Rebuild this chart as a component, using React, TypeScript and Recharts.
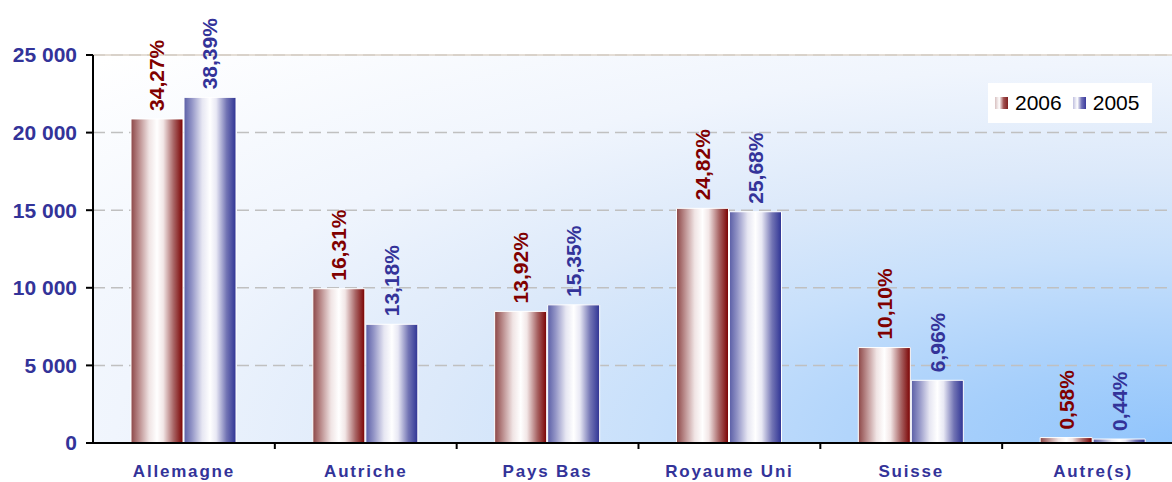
import React from "react";
import {
  BarChart,
  Bar,
  XAxis,
  YAxis,
  CartesianGrid,
  Legend,
  LabelList,
  ReferenceLine,
} from "recharts";

const PAYS = ["Allemagne", "Autriche", "Pays Bas", "Royaume Uni", "Suisse", "Autre(s)"];
const VAL_2006 = [20880, 9940, 8480, 15120, 6150, 350];
const VAL_2005 = [22270, 7650, 8900, 14900, 4040, 255];
const PCT_2006 = ["34,27%", "16,31%", "13,92%", "24,82%", "10,10%", "0,58%"];
const PCT_2005 = ["38,39%", "13,18%", "15,35%", "25,68%", "6,96%", "0,44%"];
const Y_TICKS = [0, 5000, 10000, 15000, 20000, 25000];

const RED = "#800000";
const BLUE = "#333399";
const FONT = "Arial, 'Liberation Sans', sans-serif";

const data = PAYS.map((name, i) => ({
  name,
  v2006: VAL_2006[i],
  v2005: VAL_2005[i],
  p2006: PCT_2006[i],
  p2005: PCT_2005[i],
}));

const fmt = (v: number) => (v === 0 ? "0" : `${Math.floor(v / 1000)} ${String(v % 1000).padStart(3, "0")}`);

const pctLabel = (color: string) => (props: any) => {
  const { x, y, width, value } = props;
  const cx = x + width / 2;
  const ty = y - 8;
  return (
    <text
      x={cx}
      y={ty}
      transform={`rotate(-90 ${cx} ${ty})`}
      textAnchor="start"
      dominantBaseline="central"
      fill={color}
      fontFamily={FONT}
      fontWeight="bold"
      fontSize={21}
    >
      {value}
    </text>
  );
};

// category label at the centre, tick mark on the left boundary
const XTick = (props: any) => {
  const { x, y, payload } = props;
  const half = payload.offset ?? 90.9;
  return (
    <g>
      {payload.index > 0 && (
        <line x1={x - half} x2={x - half} y1={y} y2={y + 6} stroke="#000" strokeWidth={2} />
      )}
      <text
        x={x}
        y={y + 34}
        textAnchor="middle"
        fill={BLUE}
        fontFamily={FONT}
        fontWeight="bold"
        fontSize={17}
        letterSpacing={1.8}
      >
        {payload.value}
      </text>
    </g>
  );
};

const LegendBox = () => (
  <div
    style={{
      background: "#fff",
      width: 164,
      height: 40,
      display: "flex",
      alignItems: "center",
      fontFamily: FONT,
      fontSize: 21,
      color: "#000",
    }}
  >
    <span style={{ width: 13, height: 12, marginLeft: 7, background: "linear-gradient(to right, #d8c0c0, #fff, #a05050, #802020)" }} />
    <span style={{ marginLeft: 7 }}>2006</span>
    <span style={{ width: 13, height: 12, marginLeft: 11, background: "linear-gradient(to right, #c0c0e0, #fff, #7070b8, #3a3a9c)" }} />
    <span style={{ marginLeft: 7 }}>2005</span>
  </div>
);

export default function App() {
  return (
    <div style={{ position: "absolute", left: 0, top: 0, width: 1172, height: 482, overflow: "hidden", background: "#fff" }}>
      <BarChart
        width={1184}
        height={482}
        data={data}
        margin={{ top: 55, right: 0, left: 0, bottom: 0 }}
        barGap={1}
        barSize={52}
      >
        <defs>
          <radialGradient id="bg" cx="1" cy="1" r="1.4" fx="1" fy="1">
            <stop offset="0%" stopColor="#90c4fc" />
            <stop offset="15%" stopColor="#a6cffb" />
            <stop offset="35%" stopColor="#c8e0fb" />
            <stop offset="50%" stopColor="#dce9fa" />
            <stop offset="70%" stopColor="#f0f5fd" />
            <stop offset="100%" stopColor="#ffffff" />
          </radialGradient>
          <linearGradient id="gRed" x1="0" y1="0" x2="1" y2="0">
            <stop offset="0%" stopColor="#8c4646" />
            <stop offset="15%" stopColor="#b98a8a" />
            <stop offset="35%" stopColor="#f0e4e4" />
            <stop offset="50%" stopColor="#ffffff" />
            <stop offset="62%" stopColor="#f2e6e6" />
            <stop offset="82%" stopColor="#a86464" />
            <stop offset="100%" stopColor="#7a0000" />
          </linearGradient>
          <linearGradient id="gBlue" x1="0" y1="0" x2="1" y2="0">
            <stop offset="0%" stopColor="#5a5ea6" />
            <stop offset="15%" stopColor="#9294c6" />
            <stop offset="35%" stopColor="#e6e6f2" />
            <stop offset="50%" stopColor="#ffffff" />
            <stop offset="62%" stopColor="#e8e8f4" />
            <stop offset="82%" stopColor="#7274b4" />
            <stop offset="100%" stopColor="#2e3394" />
          </linearGradient>
        </defs>
        <CartesianGrid
          vertical={false}
          stroke="#c0c0c0"
          strokeDasharray="12 6"
          strokeWidth={1.5}
          fill="url(#bg)"
        />
        <ReferenceLine y={25000} stroke="#ddd3c8" strokeWidth={1.5} />
        <XAxis
          dataKey="name"
          height={39}
          tickLine={false}
          tickSize={0}
          tickMargin={0}
          axisLine={{ stroke: "#000", strokeWidth: 2 }}
          tick={<XTick />}
          interval={0}
        />
        <YAxis
          width={93}
          domain={[0, 25000]}
          ticks={Y_TICKS}
          tickFormatter={fmt}
          tickSize={7}
          tickMargin={9}
          tickLine={{ stroke: "#000", strokeWidth: 2 }}
          axisLine={{ stroke: "#000", strokeWidth: 2 }}
          tick={{ fill: BLUE, fontFamily: FONT, fontWeight: "bold", fontSize: 21 }}
        />
        <Legend
          layout="horizontal"
          align="center"
          verticalAlign="middle"
          content={<LegendBox />}
          wrapperStyle={{ top: 83, left: 988, width: 164 }}
        />
        <Bar dataKey="v2006" name="2006" fill="url(#gRed)" stroke="#fff" strokeWidth={1} isAnimationActive={false}>
          <LabelList dataKey="p2006" content={pctLabel(RED)} />
        </Bar>
        <Bar dataKey="v2005" name="2005" fill="url(#gBlue)" stroke="#fff" strokeWidth={1} isAnimationActive={false}>
          <LabelList dataKey="p2005" content={pctLabel(BLUE)} />
        </Bar>
      </BarChart>
    </div>
  );
}
